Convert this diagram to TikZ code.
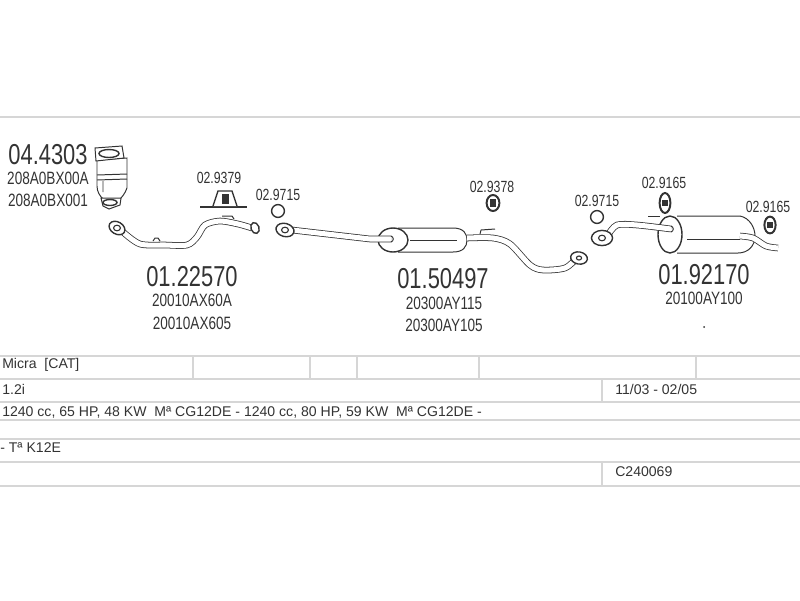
\documentclass[tikz,border=0pt]{standalone}
\usepackage{fontspec}
\setmainfont{Liberation Sans}
\newfontfamily\narrowfont[FakeStretch=0.76]{Liberation Sans}
\definecolor{inkgray}{HTML}{333333}
\definecolor{rulegray}{HTML}{D6D6D6}
\usetikzlibrary{shapes.geometric}
\tikzset{
  rule/.style={draw=rulegray,line width=1.3pt},
  pipe/.style={draw=inkgray,line width=.55pt,double=white,double distance=3.6pt},
  part/.style={draw=inkgray,line width=.7pt,fill=white},
  flange/.style={draw=inkgray,line width=1pt,fill=white,ellipse,minimum width=#1,minimum height=.72*#1,inner sep=0pt},
  bore/.style={draw=inkgray,line width=.8pt,ellipse,minimum width=1.7mm,minimum height=1.4mm,inner sep=0pt},
  hanger/.style={draw=inkgray,line width=1.4pt,fill=white,ellipse,inner sep=0pt},
  ring/.style={circle,draw=inkgray,line width=1pt,minimum size=3.2mm,inner sep=0pt},
  bignum/.style={text=inkgray,font=\narrowfont\fontsize{20.5}{22}\selectfont},
  midnum/.style={text=inkgray,font=\narrowfont\fontsize{12.7}{14}\selectfont},
  refnum/.style={text=inkgray,font=\narrowfont\fontsize{11.5}{13}\selectfont},
  rowtext/.style={anchor=west,text=inkgray,inner sep=0pt,font=\fontsize{10}{11}\selectfont}
}
\begin{document}
\begin{tikzpicture}[x=.025cm,y=-.025cm]
  \useasboundingbox (0,0) rectangle (800,600);
  \draw[rule] (0,117) -- (800,117);
  \foreach \rowy in {356,379,402,420,439,462,486}
    \draw[rule] (0,\rowy) -- (800,\rowy);
  \foreach \colx in {193,310,357,479,696}
    \draw[rule] (\colx,356) -- (\colx,379);
  \draw[rule] (602,379) -- (602,402);
  \draw[rule] (602,462) -- (602,486);

  % converter
  \draw[part] (97,160) -- (127,158) -- (127,188) .. controls (125,194) and (121,198) .. (120,199) -- (103,199) .. controls (100,196) and (97,192) .. (97,186) -- cycle;
  \draw[part] (97,175) -- (127,174) (97,180) -- (127,179) (103,181) -- (103,192);
  \draw[part] (95,148) -- (122,146) -- (124,158) -- (96,161) -- cycle;
  \draw[part,line width=1pt] (109,153.5) ellipse [x radius=10,y radius=4];
  \draw[part] (101,198) -- (121,198) -- (120,205) -- (109,209) -- (103,206) -- cycle;
  \draw[part,line width=1pt] (110,202.5) ellipse [x radius=7,y radius=3];

  % bracket
  \draw[draw=inkgray,line width=1.6pt] (200,207) -- (247,207);
  \draw[part,line width=1pt] (213,206) -- (218,191) -- (232,191) -- (237,206);
  \fill[inkgray] (222,194) rectangle (229,204);

  % pipes
  \draw[pipe] plot[smooth] coordinates {(123,232) (140,244) (165,245) (187,245) (197,237) (205,225) (220,221) (238,224) (252,228)};
  \draw[part] (222,216) -- (232,216) -- (234,219);
  \draw[part] (153,241) -- (155,238) -- (158,238) -- (160,241);
  \draw[part] (398,228) -- (453,228) .. controls (464,228) and (467,234) .. (467,240) .. controls (467,247) and (463,252) .. (453,252) -- (398,252);
  \draw[part] (410,240) -- (457,240);
  \draw[part,line width=1pt] (393,240) ellipse [x radius=15,y radius=12];
  \draw[pipe] (292,230) -- (370,239) -- (391,239);
  \draw[draw=inkgray,line width=.7pt] (391,236) .. controls (394,237) and (394,241) .. (391,242);
  \draw[pipe] plot[smooth] coordinates {(467,238) (493,238) (510,244) (530,265) (543,270) (565,268) (577,258)};
  \draw[part] (480,234) -- (481,230) -- (495,229);
  \draw[part] (677,216) -- (740,216) .. controls (750,218) and (755,228) .. (755,236) .. controls (755,246) and (748,253) .. (738,253) -- (677,253);
  \draw[part,line width=1pt] (670,234.5) ellipse [x radius=12,y radius=18.5];
  \draw[pipe] plot[smooth] coordinates {(608,235) (617,225) (637,225) (671,229)};
  \draw[draw=inkgray,line width=.7pt] (671,226) .. controls (674,227) and (674,231) .. (671,232);
  \draw[part] (687,239) -- (740,239);
  \draw[part] (648,216) -- (660,216);
  \draw[pipe] plot[smooth] coordinates {(740,236) (753,238) (766,246) (778,248)};

  % rings, hangers, flanges
  \node[flange=12pt,rotate=-30] (frontflange) at (117,228) {};
  \node[bore] (frontbore) at (117,228) {};
  \node[flange=8pt,rotate=-70] (frontend) at (255,228) {};
  \node[flange=13pt,rotate=-15] (midflange) at (285,230) {};
  \node[bore] (midbore) at (285,230) {};
  \node[flange=12pt,rotate=-10] (midend) at (579,258) {};
  \node[bore,minimum width=1.3mm,minimum height=1mm] (midendbore) at (579,258) {};
  \node[flange=15pt] (rearflange) at (602,238) {};
  \node[bore] (rearbore) at (602,238) {};
  \node[ring] (ringA) at (278,211) {};
  \node[ring] (ringB) at (597,217) {};
  \node[hanger,minimum width=3.2mm,minimum height=4mm] (hangerA) at (493,203) {};
  \node[hanger,minimum width=2.7mm,minimum height=5mm] (hangerB) at (665,203) {};
  \node[hanger,minimum width=2.8mm,minimum height=4.2mm] (hangerC) at (770,225) {};
  \fill[inkgray] (490,199) rectangle (496,207);
  \fill[inkgray] (662,200) rectangle (668,206);
  \fill[inkgray] (767,222) rectangle (773,228);
  \fill[inkgray] (704,327) circle (1);

  \begin{scope}[every node/.style={bignum}]
    \node (catno) at (48,155) {04.4303};
    \node (frontno) at (192,277) {01.22570};
    \node (midno) at (443,279) {01.50497};
    \node (rearno) at (704,275) {01.92170};
  \end{scope}
  \begin{scope}[every node/.style={midnum}]
    \node (catA) at (48,178) {208A0BX00A};
    \node (catB) at (48,200) {208A0BX001};
    \node (frontA) at (192,300) {20010AX60A};
    \node (frontB) at (192,323) {20010AX605};
    \node (midA) at (444,303) {20300AY115};
    \node (midB) at (444,325) {20300AY105};
    \node (rearA) at (704,298) {20100AY100};
  \end{scope}
  \begin{scope}[every node/.style={refnum}]
    \node (bracketno) at (219,178) {02.9379};
    \node (ringAno) at (278,195) {02.9715};
    \node (hangerAno) at (492,187) {02.9378};
    \node (ringBno) at (597,201) {02.9715};
    \node (hangerBno) at (664,183) {02.9165};
    \node (hangerCno) at (768,207) {02.9165};
  \end{scope}
  \begin{scope}[every node/.style={rowtext}]
    \node (model) at (2,365) {Micra\ \ [CAT]};
    \node (engine) at (2,389) {1.2i};
    \node (dates) at (615,389) {11/03 - 02/05};
    \node (power) at (2,412) {1240 cc, 65 HP, 48 KW\ \ Mª CG12DE - 1240 cc, 80 HP, 59 KW\ \ Mª CG12DE -};
    \node (gearbox) at (0,448) {- Tª K12E};
    \node (code) at (615,472) {C240069};
  \end{scope}
\end{tikzpicture}
\end{document}
